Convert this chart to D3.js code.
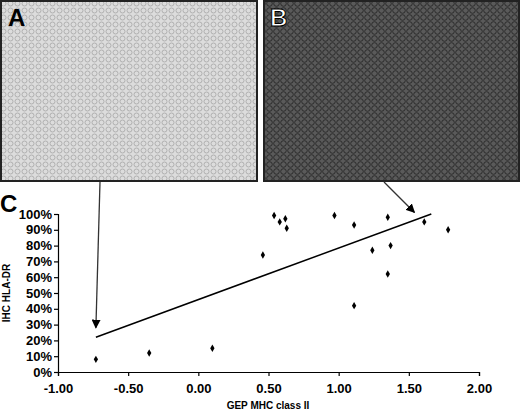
<!DOCTYPE html>
<html><head><meta charset="utf-8">
<script src="https://cdn.jsdelivr.net/npm/d3@7"></script>
<style>body{margin:0;background:#fff}svg{display:block}text{font-family:"Liberation Sans",Arial,sans-serif;font-weight:bold}</style></head>
<body><svg id="c" width="520" height="416"></svg>
<script>
const xVals=[-0.73,-0.35,0.10,0.46,0.54,0.58,0.62,0.63,0.97,1.11,1.11,1.24,1.35,1.35,1.37,1.61,1.78];
const yVals=[0.08,0.12,0.15,0.74,0.99,0.95,0.97,0.91,0.99,0.93,0.42,0.77,0.98,0.62,0.80,0.95,0.90];
const trend=[[-0.73,0.22],[1.66,1.0]];
const xTicks=[-1,-0.5,0,0.5,1,1.5,2];
const yTicks=[0,0.1,0.2,0.3,0.4,0.5,0.6,0.7,0.8,0.9,1.0];
const svg=d3.select("#c");
const defs=svg.append("defs");
function pat(id,bg,fg,r,sz){const p=defs.append("pattern").attr("id",id).attr("width",sz).attr("height",sz).attr("patternUnits","userSpaceOnUse");
p.append("rect").attr("width",sz).attr("height",sz).attr("fill",bg);
p.append("circle").attr("cx",sz/2).attr("cy",sz/2).attr("r",r).attr("fill","none").attr("stroke",fg).attr("stroke-width",1);}
pat("pa","#dcdcdc","#b0b0b0",2.5,7);pat("pb","#5a5a5a","#2a2a2a",2.8,7);
svg.append("rect").attr("x",1).attr("y",1).attr("width",256).attr("height",180).attr("fill","url(#pa)").attr("stroke","#222").attr("stroke-width",2);
svg.append("rect").attr("x",264).attr("y",1).attr("width",255).attr("height",180).attr("fill","url(#pb)").attr("stroke","#222").attr("stroke-width",2);
svg.append("text").attr("x",8).attr("y",26).text("A").style("font-size","24px");
svg.append("text").attr("x",270).attr("y",26).text("B").style("font-size","24px").attr("fill","#fff").attr("stroke","#000").attr("stroke-width",1);
svg.append("text").attr("x",0).attr("y",212).text("C").style("font-size","24px");
const x=d3.scaleLinear().domain([-1,2]).range([58,479]);
const y=d3.scaleLinear().domain([0,1]).range([372,214]);
const ax=svg.append("g").attr("transform","translate(0,372)").call(d3.axisBottom(x).tickValues(xTicks).tickFormat(d=>d.toFixed(2)).tickSize(4));
ax.attr("font-family",null);
ax.selectAll("text").style("font-size","13px").attr("dy","1.1em");
const ay=svg.append("g").attr("transform","translate(58,0)").call(d3.axisLeft(y).tickValues(yTicks).tickFormat(d=>Math.round(d*100)+"%").tickSize(4));
ay.attr("font-family",null);
ay.selectAll("text").style("font-size","13px").attr("x",-6);
svg.selectAll(".domain,.tick line").attr("stroke","#000").attr("stroke-width",1.2);
svg.append("text").attr("x",268).attr("y",409).attr("text-anchor","middle").text("GEP MHC class II").style("font-size","10px");
svg.append("text").attr("transform","translate(10,293) rotate(-90)").attr("text-anchor","middle").text("IHC HLA-DR").style("font-size","10px");
svg.append("line").attr("x1",x(trend[0][0])).attr("y1",y(trend[0][1])).attr("x2",x(trend[1][0])).attr("y2",y(trend[1][1])).attr("stroke","#000").attr("stroke-width",1.5);
svg.selectAll("path.pt").data(xVals).join("path").attr("class","pt").attr("d",d3.symbol(d3.symbolDiamond,16)).attr("transform",(d,i)=>`translate(${x(d)},${y(yVals[i])})`).attr("fill","#000");
defs.append("marker").attr("id","ar").attr("viewBox","0 0 10 10").attr("refX",9).attr("refY",5).attr("markerWidth",7).attr("markerHeight",7).attr("orient","auto").append("path").attr("d","M0,0L10,5L0,10z");
svg.append("line").attr("x1",100).attr("y1",182).attr("x2",x(-0.73)).attr("y2",y(0.28)).attr("stroke","#333").attr("stroke-width",1.3).attr("marker-end","url(#ar)");
svg.append("line").attr("x1",384).attr("y1",182).attr("x2",x(1.54)).attr("y2",y(1.01)).attr("stroke","#333").attr("stroke-width",1.3).attr("marker-end","url(#ar)");
</script></body></html>
